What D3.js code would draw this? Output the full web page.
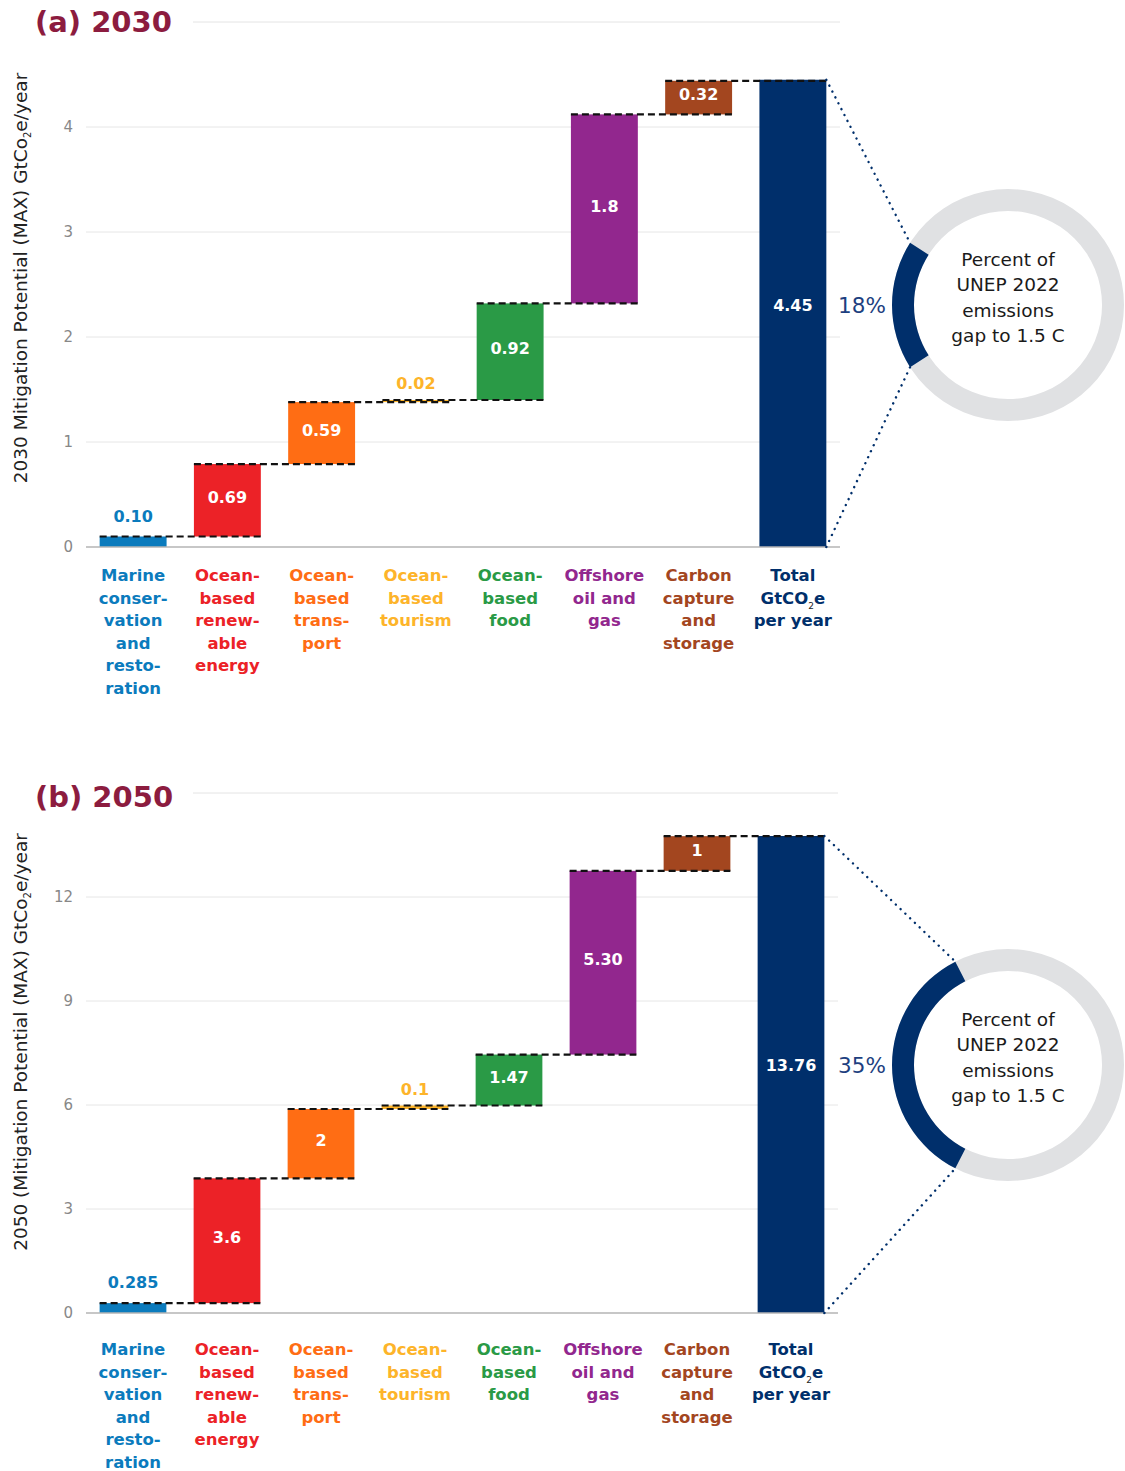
<!DOCTYPE html>
<html>
<head>
<meta charset="utf-8">
<script src="https://cdn.jsdelivr.net/npm/d3@7"></script>
<style>
  html, body { margin: 0; padding: 0; background: #fff; }
  svg { display: block; }
  text { font-family: "DejaVu Sans", sans-serif; }
</style>
</head>
<body>
<script>
// ---------- DATA ----------
const categoryLines = [
  ["Marine", "conser-", "vation", "and", "resto-", "ration"],
  ["Ocean-", "based", "renew-", "able", "energy"],
  ["Ocean-", "based", "trans-", "port"],
  ["Ocean-", "based", "tourism"],
  ["Ocean-", "based", "food"],
  ["Offshore", "oil and", "gas"],
  ["Carbon", "capture", "and", "storage"],
  ["Total", "GtCO₂e", "per year"]
];
const categoryColors = ["#0b7bbd", "#ec2227", "#ff6d14", "#fdb42a", "#2a9a46", "#92278e", "#a3461f", "#002f6b"];

const values2030 = [0.10, 0.69, 0.59, 0.02, 0.92, 1.8, 0.32];
const labels2030 = ["0.10", "0.69", "0.59", "0.02", "0.92", "1.8", "0.32"];
const total2030 = 4.45;
const totalLabel2030 = "4.45";
const ticks2030 = [0, 1, 2, 3, 4];
const pct2030 = 18;

const values2050 = [0.285, 3.6, 2, 0.1, 1.47, 5.30, 1];
const labels2050 = ["0.285", "3.6", "2", "0.1", "1.47", "5.30", "1"];
const total2050 = 13.76;
const totalLabel2050 = "13.76";
const ticks2050 = [0, 3, 6, 9, 12];
const pct2050 = 35;

const donutText = ["Percent of", "UNEP 2022", "emissions", "gap to 1.5 C"];

// ---------- DRAW ----------
const W = 1125, H = 1471;
const svg = d3.select("body").append("svg").attr("width", W).attr("height", H);
const NAVY = "#002f6b";

const panels = [
  { title: "(a) 2030", yLabelPre: "2030 Mitigation Potential (MAX) GtCo", yLabelPost: "e/year",
    values: values2030, labels: labels2030, total: total2030, totalLabel: totalLabel2030,
    ticks: ticks2030, domainMax: 5, pct: pct2030,
    y0: 547, y1: 22, xr: [86, 840], titleY: 32, catY: 581, yLabelCY: 278, donutCY: 305 },
  { title: "(b) 2050", yLabelPre: "2050 (Mitigation Potential (MAX) GtCo", yLabelPost: "e/year",
    values: values2050, labels: labels2050, total: total2050, totalLabel: totalLabel2050,
    ticks: ticks2050, domainMax: 15, pct: pct2050,
    y0: 1313, y1: 793, xr: [86, 838], titleY: 807, catY: 1355, yLabelCY: 1042, donutCY: 1065 }
];

panels.forEach(p => {
  const g = svg.append("g");
  const y = d3.scaleLinear().domain([0, p.domainMax]).range([p.y0, p.y1]);
  const x = d3.scaleBand().domain(d3.range(8)).range(p.xr).paddingInner(0.29).paddingOuter(0.145);
  const bw = x.bandwidth();

  // title
  g.append("text").attr("x", 35).attr("y", p.titleY)
    .attr("font-size", 29).attr("font-weight", "bold").attr("fill", "#8c1c3f").text(p.title);
  // top rule
  g.append("line").attr("x1", 193).attr("x2", p.xr[1])
    .attr("y1", y(p.domainMax)).attr("y2", y(p.domainMax))
    .attr("stroke", "#e4e4e4").attr("stroke-width", 1);

  // gridlines
  g.selectAll(".grid").data(p.ticks.filter(t => t > 0)).enter().append("line")
    .attr("x1", p.xr[0]).attr("x2", p.xr[1])
    .attr("y1", d => y(d)).attr("y2", d => y(d))
    .attr("stroke", "#e6e6e6").attr("stroke-width", 1);

  // tick labels
  g.selectAll(".tick").data(p.ticks).enter().append("text")
    .attr("x", 73).attr("y", d => y(d)).attr("dy", "0.36em")
    .attr("text-anchor", "end").attr("font-size", 15).attr("fill", "#888")
    .text(d => d);

  // y label
  const yl = g.append("text")
    .attr("transform", `translate(27,${p.yLabelCY}) rotate(-90)`)
    .attr("text-anchor", "middle").attr("font-size", 18.5).attr("fill", "#222");
  yl.append("tspan").text(p.yLabelPre);
  yl.append("tspan").attr("font-size", 10).attr("dy", 4).text("2");
  yl.append("tspan").attr("dy", -4).text(p.yLabelPost);

  // cumulative
  const cum = [];
  let s = 0;
  p.values.forEach(v => { s += v; cum.push(s); });
  const bars = p.values.map((v, i) => ({ i, lo: i === 0 ? 0 : cum[i - 1], hi: cum[i], label: p.labels[i] }));
  bars.push({ i: 7, lo: 0, hi: p.total, label: p.totalLabel });

  // bars
  g.selectAll(".bar").data(bars).enter().append("rect")
    .attr("x", d => x(d.i)).attr("width", bw)
    .attr("y", d => y(d.hi)).attr("height", d => Math.max(1.5, y(d.lo) - y(d.hi)))
    .attr("fill", d => categoryColors[d.i]);

  // baseline
  g.append("line").attr("x1", p.xr[0]).attr("x2", p.xr[1])
    .attr("y1", y(0)).attr("y2", y(0)).attr("stroke", "#b5b5b5").attr("stroke-width", 1.5);

  // dashed connectors
  g.selectAll(".conn").data(bars.slice(0, 7)).enter().append("line")
    .attr("x1", d => x(d.i)).attr("x2", d => x(d.i + 1) + bw)
    .attr("y1", d => y(d.hi)).attr("y2", d => y(d.hi))
    .attr("stroke", "#111").attr("stroke-width", 2.2).attr("stroke-dasharray", "7,4");

  // value labels
  bars.forEach(d => {
    const h = y(d.lo) - y(d.hi);
    const cx = x(d.i) + bw / 2;
    if (d.i === 7) {
      g.append("text").attr("x", cx).attr("y", p.donutCY).attr("dy", "0.36em")
        .attr("text-anchor", "middle").attr("font-size", 16).attr("font-weight", "bold")
        .attr("fill", "#fff").text(d.label);
    } else if (h < 22) {
      g.append("text").attr("x", cx).attr("y", y(d.hi) - (h < 5 ? 11 : 15))
        .attr("text-anchor", "middle").attr("font-size", 16).attr("font-weight", "bold")
        .attr("fill", categoryColors[d.i]).text(d.label);
    } else {
      g.append("text").attr("x", cx).attr("y", (y(d.lo) + y(d.hi)) / 2 - 3).attr("dy", "0.36em")
        .attr("text-anchor", "middle").attr("font-size", 16).attr("font-weight", "bold")
        .attr("fill", "#fff").text(d.label);
    }
  });

  // category labels
  categoryLines.forEach((lines, i) => {
    const t = g.append("text").attr("text-anchor", "middle")
      .attr("font-size", 16.5).attr("font-weight", "bold").attr("fill", categoryColors[i]);
    lines.forEach((ln, k) => {
      const yy = p.catY + k * 22.6;
      if (ln.includes("₂")) {
        const parts = ln.split("₂");
        const tt = g.append("text").attr("text-anchor", "middle").attr("x", x(i) + bw / 2).attr("y", yy)
          .attr("font-size", 16.5).attr("font-weight", "bold").attr("fill", categoryColors[i]);
        tt.append("tspan").text(parts[0]);
        tt.append("tspan").attr("font-size", 9).attr("font-weight", "normal").attr("fill", "#222").attr("dy", 5).text("2");
        tt.append("tspan").attr("dy", -5).text(parts[1]);
      } else {
        t.append("tspan").attr("x", x(i) + bw / 2).attr("y", yy).text(ln);
      }
    });
  });

  // donut
  const cx = 1008, cy = p.donutCY, R = 116, r = 94;
  const arc = d3.arc().innerRadius(r).outerRadius(R);
  const half = p.pct / 100 * Math.PI;
  const dg = g.append("g").attr("transform", `translate(${cx},${cy})`);
  dg.append("path").attr("d", arc({ startAngle: 0, endAngle: 2 * Math.PI })).attr("fill", "#e0e1e3");
  dg.append("path").attr("d", arc({ startAngle: 1.5 * Math.PI - half, endAngle: 1.5 * Math.PI + half })).attr("fill", NAVY);

  // dotted lines
  const bx = x(7) + bw;
  const ex = cx - R * Math.cos(half);
  const eyTop = cy - R * Math.sin(half);
  const eyBot = cy + R * Math.sin(half);
  [[y(p.total), eyTop], [y(0), eyBot]].forEach(([sy, ey]) => {
    g.append("line").attr("x1", bx).attr("y1", sy).attr("x2", ex).attr("y2", ey)
      .attr("stroke", NAVY).attr("stroke-width", 2.4).attr("stroke-linecap", "round")
      .attr("stroke-dasharray", "0.1,6.5");
  });

  // percent text
  g.append("text").attr("x", 862).attr("y", cy).attr("dy", "0.36em")
    .attr("text-anchor", "middle").attr("font-size", 21.5).attr("fill", "#1d3f80").text(p.pct + "%");

  // donut center text
  const offs = [-46, -20.5, 5, 30.5];
  donutText.forEach((tx, k) => {
    g.append("text").attr("x", cx).attr("y", cy + offs[k]).attr("dy", "0.36em")
      .attr("text-anchor", "middle").attr("font-size", 18.5).attr("fill", "#1a1a1a").text(tx);
  });
});
</script>
</body>
</html>
